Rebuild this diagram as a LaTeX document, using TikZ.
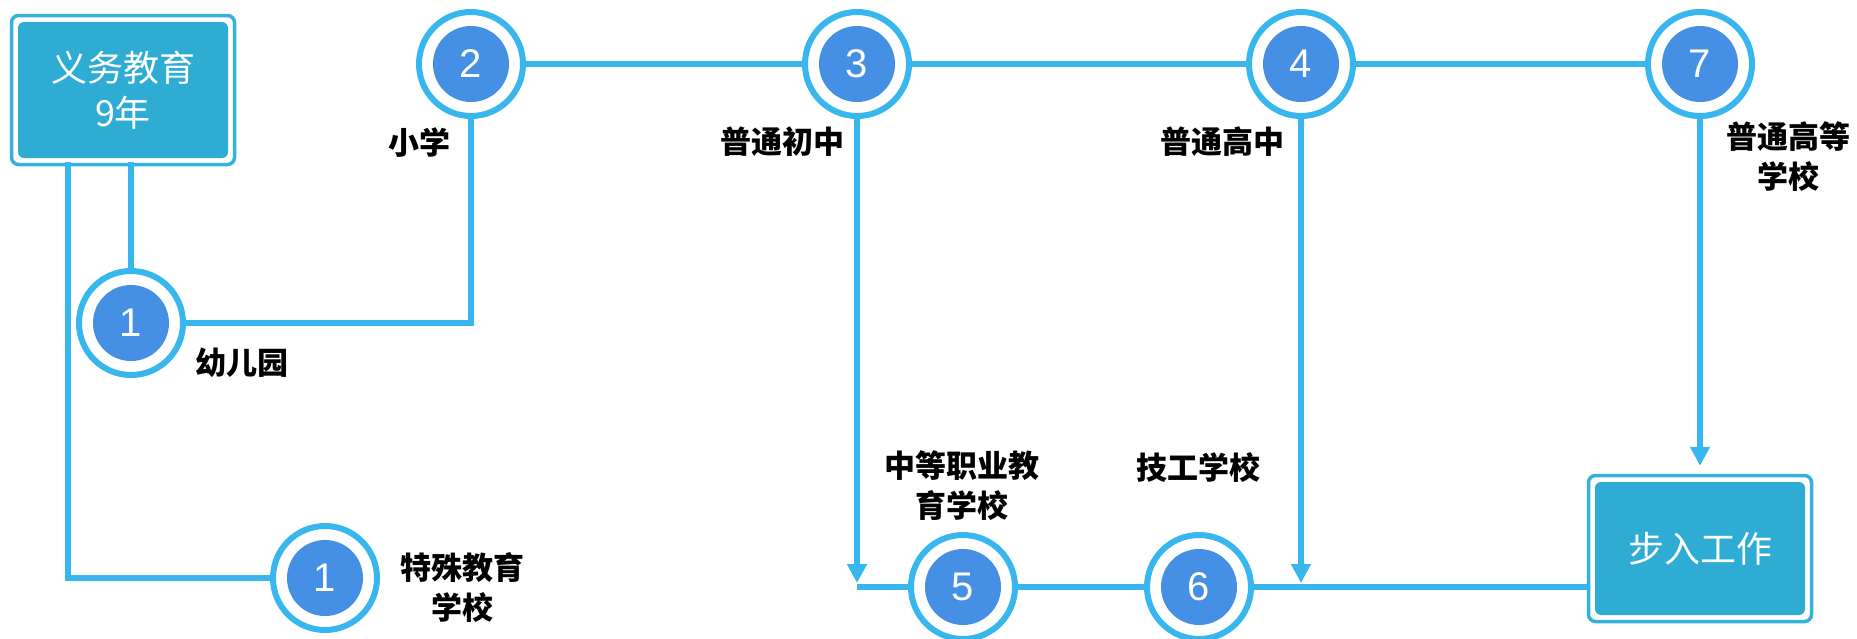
\documentclass[tikz,border=0pt]{standalone}
\usepackage{fontspec}
\setmainfont{Noto Sans CJK SC}
\newfontfamily\numfont{Liberation Sans}
\usetikzlibrary{arrows.meta}
\definecolor{linec}{RGB}{56,183,238}
\definecolor{diskc}{RGB}{69,144,228}
\definecolor{boxc}{RGB}{46,172,212}
\definecolor{boxedge}{RGB}{52,178,222}
\begin{document}
\begin{tikzpicture}[x=1pt,y=-1pt,
  ring/.style={circle, draw=linec, line width=6pt, fill=white, minimum size=104pt, inner sep=0pt,
    text=white, font=\numfont\fontsize{40}{40}\selectfont,
    path picture={\fill[diskc] (path picture bounding box.center) circle (38pt);}},
  conn/.style={draw=linec, line width=6pt},
  arr/.style={conn, -{Triangle[width=19pt,length=19pt]}},
  lbl/.style={font=\bfseries\fontsize{31}{40}\selectfont, align=center, inner sep=0pt},
  bigbox/.style={draw=boxedge, line width=3.5pt, rounded corners=7pt, fill=white, minimum width=223pt,
    inner sep=0pt, text=white, align=center, font=\fontsize{36}{45}\selectfont,
    path picture={\fill[boxc, rounded corners=6pt]
      ([shift={(6.5pt,6.5pt)}]path picture bounding box.south west) rectangle
      ([shift={(-6.5pt,-6.5pt)}]path picture bounding box.north east);}}
]
\useasboundingbox (0,0) rectangle (1857,638);

% boxes
\node[bigbox, minimum height=149pt] (box1) at (123,90) {义务教育\\9年};
\node[bigbox, minimum height=146pt] (box2) at (1700,548.5) {步入工作};

% circles
\node[ring] (c1) at (131,323) {1};
\node[ring] (c1b) at (325,578) {1};
\node[ring] (c2) at (471,64) {2};
\node[ring] (c3) at (857,64) {3};
\node[ring] (c4) at (1301,64) {4};
\node[ring] (c7) at (1700,64) {7};
\node[ring] (c5) at (963,587) {5};
\node[ring] (c6) at (1199,587) {6};

% labels
\node[lbl] (l2) at (419,143) {小学};
\node[lbl] (l3) at (782,142) {普通初中};
\node[lbl] (l4) at (1222,142) {普通高中};
\node[lbl] (l7) at (1788,157) {普通高等\\学校};
\node[lbl] (l1) at (242,363) {幼儿园};
\node[lbl] (l1b) at (462,587) {特殊教育\\学校};
\node[lbl] (l5) at (962,486) {中等职业教\\育学校};
\node[lbl] (l6) at (1198,468) {技工学校};

% connectors
\draw[conn] (c1.north) -- ([yshift=4pt]c1.north |- box1.south);
\draw[conn] (c1b.west) -| ([xshift=-55pt,yshift=4pt]box1.south);
\draw[conn] (c1.east) -| (c2.south);
\draw[conn] (c2.east) -- (c3.west);
\draw[conn] (c3.east) -- (c4.west);
\draw[conn] (c4.east) -- (c7.west);
\draw[arr] (c3.south) -- ([yshift=4pt]c3.south |- c5.center);
\draw[conn] (c3.south |- c5.center) -- (c5.west);
\draw[conn] (c5.east) -- (c6.west);
\draw[conn] (c6.east) -- (c6.east -| box2.west);
\draw[arr] (c4.south) -- ([yshift=4pt]c4.south |- c6.center);
\draw[arr] (c7.south) -- ([yshift=8pt]box2.north);
\end{tikzpicture}
\end{document}
